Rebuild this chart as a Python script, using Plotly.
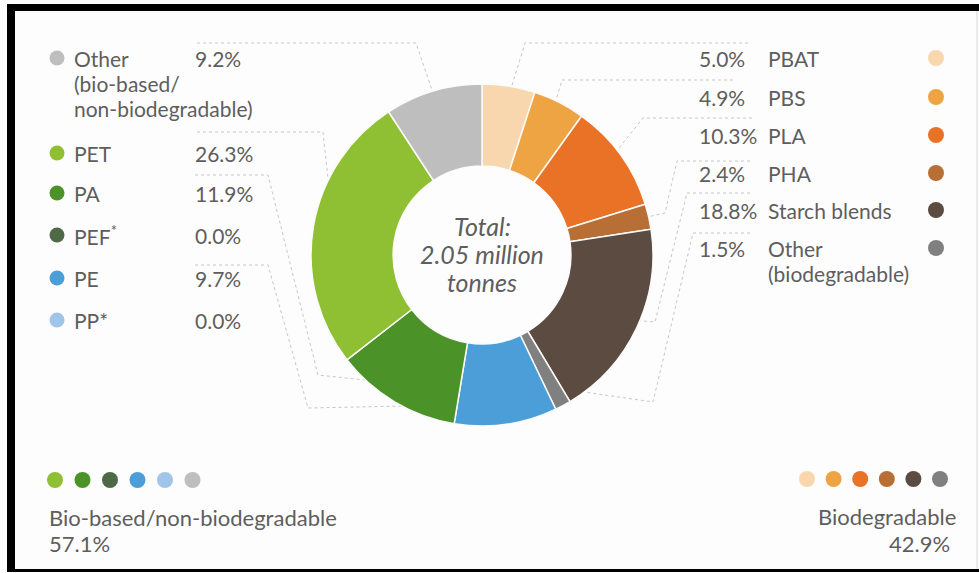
import math
import plotly.graph_objects as go

# Biodegradable grades, listed top to bottom (right column), clockwise from 12 o'clock
deg_labels = ["PBAT", "PBS", "PLA", "PHA", "Starch blends", "Other\n(biodegradable)"]
deg_shares = [5.0, 4.9, 10.3, 2.4, 18.8, 1.5]
deg_colors = ["#f9d7ae", "#eea443", "#e97226", "#b86f35", "#5b4b41", "#808080"]

# Bio-based / non-biodegradable grades, listed top to bottom (left column)
base_labels = ["Other\n(bio-based/\nnon-biodegradable)", "PET", "PA", "PEF<sup>*</sup>", "PE", "PP*"]
base_shares = [9.2, 26.3, 11.9, 0.0, 9.7, 0.0]
base_colors = ["#bebebe", "#8fbf32", "#4b9229", "#4e6946", "#4b9ed8", "#9fc6e8"]

group_names = ["Bio-based/non-biodegradable", "Biodegradable"]
center_text = ["Total:", "2.05 million", "tonnes"]

# ---- canvas geometry (pixels) ----
W, H = 979, 573
CX, CY, R = 482, 255, 171
HOLE = 0.52
FONT = "Lato"
FS = 21
LINE_GAP = 25
TXT = "#5e5e5e"
LEAD = "#c6c6c6"

# ring order: biodegradable clockwise, then bio-based continuing round to the top
ring_keys = [("deg", i) for i in range(len(deg_labels))] + [("base", i) for i in range(len(base_labels))][::-1]
ring_names = [l.split("\n")[0] for l in deg_labels] + [l.split("\n")[0] + " (bio-based)" for l in base_labels][::-1]
ring_values = deg_shares + base_shares[::-1]
ring_colors = deg_colors + base_colors[::-1]
total = sum(ring_values)

# zero-share grades have no slice of their own
shown = [i for i, v in enumerate(ring_values) if v > 0]

fig = go.Figure()

fig.add_trace(go.Pie(
    values=[ring_values[i] for i in shown],
    labels=[ring_names[i] for i in shown],
    marker=dict(colors=[ring_colors[i] for i in shown], line=dict(color="#fbfbfb", width=1.5)),
    sort=False, direction="clockwise", rotation=0, hole=HOLE,
    textinfo="none", hoverinfo="label+percent", showlegend=False,
    domain=dict(x=[(CX - R) / W, (CX + R) / W], y=[(H - CY - R) / H, (H - CY + R) / H]),
))

# slice anchor points (mid-angle, near outer rim) for the leader lines
anchor = {}
cum = 0.0
for key, v in zip(ring_keys, ring_values):
    theta = math.radians(360.0 * (cum + v / 2) / total)
    r = 0.88 * R
    anchor[key] = (CX + r * math.sin(theta), CY - r * math.cos(theta))
    cum += v

# leader routes: waypoints from the label side, ending in the slice
routes = {
    ("base", 0): [(197, 43), (416, 43)],
    ("base", 1): [(197, 132), (323, 132)],
    ("base", 2): [(195, 175), (268, 175), (318, 375)],
    ("base", 4): [(195, 265), (268, 265), (308, 408)],
    ("deg", 0): [(748, 43), (525, 43)],
    ("deg", 1): [(733, 80), (562, 80)],
    ("deg", 2): [(752, 118), (643, 118)],
    ("deg", 3): [(750, 161), (677, 161), (665, 213)],
    ("deg", 4): [(750, 193), (687, 193), (655, 322)],
    ("deg", 5): [(750, 233), (693, 233), (653, 402)],
}
for key, pts in routes.items():
    pts = pts + [anchor[key]]
    fig.add_trace(go.Scatter(
        x=[p[0] for p in pts], y=[p[1] for p in pts], mode="lines",
        line=dict(color=LEAD, width=1, dash="dot"),
        hoverinfo="skip", showlegend=False,
    ))

annotations = []

def text(x, y, s, anchor_x="left", size=FS, italic=False):
    annotations.append(dict(
        x=x, y=y, xref="x", yref="y", text=f"<i>{s}</i>" if italic else s,
        showarrow=False, xanchor=anchor_x, yanchor="middle",
        font=dict(family=FONT, size=size, color=TXT),
    ))

# left column
left_rows = [58, 153, 193, 235, 278, 320]
fig.add_trace(go.Scatter(
    x=[57] * len(base_labels), y=left_rows, mode="markers",
    marker=dict(size=15, color=base_colors), hoverinfo="skip", showlegend=False,
))
for y, lab, val in zip(left_rows, base_labels, base_shares):
    for j, line in enumerate(lab.split("\n")):
        text(72, y + LINE_GAP * j, line)
    text(193, y, f"{val:.1f}%")

# right column
right_rows = [58, 97, 135, 173, 210, 248]
fig.add_trace(go.Scatter(
    x=[936] * len(deg_labels), y=right_rows, mode="markers",
    marker=dict(size=16, color=deg_colors), hoverinfo="skip", showlegend=False,
))
for y, lab, val in zip(right_rows, deg_labels, deg_shares):
    text(697, y, f"{val:.1f}%")
    for j, line in enumerate(lab.split("\n")):
        text(766, y + LINE_GAP * j, line)

# centre label
for j, line in enumerate(center_text):
    text(CX, 226 + 28 * j, line, anchor_x="center", size=25, italic=True)

# group swatches and totals
left_order = [1, 2, 3, 4, 5, 0]
fig.add_trace(go.Scatter(
    x=[55 + 27.5 * i for i in range(6)], y=[480] * 6, mode="markers",
    marker=dict(size=16, color=[base_colors[i] for i in left_order]),
    hoverinfo="skip", showlegend=False,
))
fig.add_trace(go.Scatter(
    x=[807 + 26.6 * i for i in range(6)], y=[479] * 6, mode="markers",
    marker=dict(size=16, color=deg_colors),
    hoverinfo="skip", showlegend=False,
))
text(47, 517, group_names[0], size=22)
text(47, 543, f"{sum(base_shares):.1f}%", size=22)
text(958, 516, group_names[1], anchor_x="right", size=22)
text(952, 543, f"{sum(deg_shares):.1f}%", anchor_x="right", size=22)

# frame
shapes = [
    dict(type="rect", x0=7, x1=15, y0=4, y1=572, fillcolor="#000", line_width=0),
    dict(type="rect", x0=7, x1=W, y0=4, y1=11, fillcolor="#000", line_width=0),
    dict(type="rect", x0=7, x1=W, y0=569, y1=572, fillcolor="#000", line_width=0),
    dict(type="line", x0=977, x1=977, y0=11, y1=569, line=dict(color="#d6d6d6", width=1)),
]
for s in shapes:
    s.update(xref="x", yref="y", layer="above")

fig.update_layout(
    width=W, height=H, margin=dict(l=0, r=0, t=0, b=0),
    paper_bgcolor="#fdfdfd", plot_bgcolor="rgba(0,0,0,0)",
    xaxis=dict(range=[0, W], visible=False, fixedrange=True, domain=[0, 1]),
    yaxis=dict(range=[H, 0], visible=False, fixedrange=True, domain=[0, 1]),
    annotations=annotations, shapes=shapes,
)

fig.write_html("out.html")
